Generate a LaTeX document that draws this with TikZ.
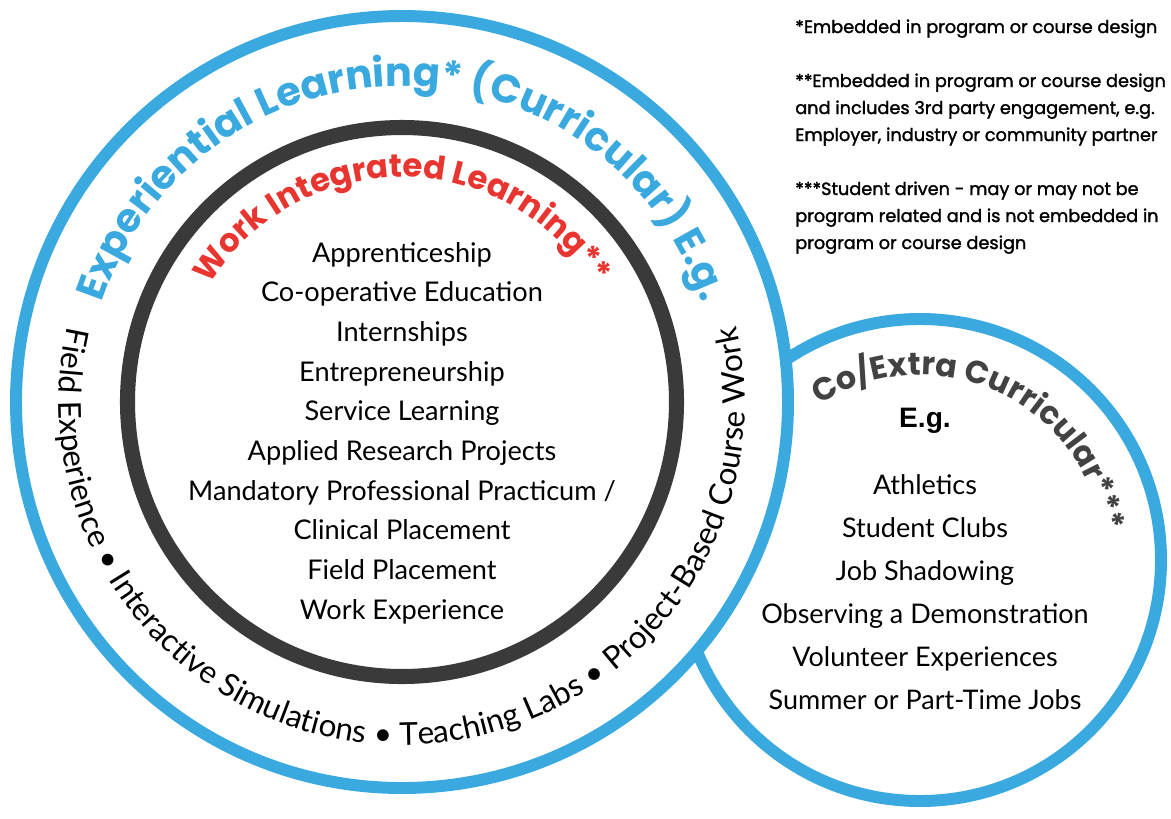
\documentclass[tikz,border=0pt]{standalone}
\usepackage{fontspec}
\setmainfont{Lato}
\newfontfamily\pop{Poppins}
\newfontfamily\popm{Poppins}[FakeBold=1.6]
\newfontfamily\ars{Liberation Sans}
\usetikzlibrary{decorations.text}
\definecolor{eblue}{HTML}{39A9DF}
\definecolor{wred}{HTML}{E8352F}
\definecolor{dgray}{HTML}{3A3A3A}
\definecolor{cgray}{HTML}{424242}
\tikzset{
  bluering/.style={draw=eblue, line width=8.5pt, fill=white},
  darkring/.style={draw=dgray, line width=10.7pt},
  listtext/.style={align=center, inner sep=0pt, font=\fontsize{19.3}{28.2}\selectfont},
  smalllist/.style={align=center, inner sep=0pt, font=\fontsize{19.2}{30.6}\selectfont},
  notetext/.style={align=left, inner sep=0pt, anchor=base west, font=\popm\fontsize{12.6}{19.2}\selectfont},
}
\begin{document}
\begin{tikzpicture}[x=0.025cm,y=0.025cm]
\useasboundingbox (0,0) rectangle (1171,-818);
\coordinate (cbig) at (402,-402);
\coordinate (csmall) at (920,-560);
% circles
\path[bluering] (csmall) circle[radius=241];
\path[bluering] (cbig) circle[radius=386];
\path[darkring] (cbig) circle[radius=274.5];
% curved titles
\path[decorate, decoration={text along path, text align=center,
  text={|\pop\bfseries\fontsize{28.4}{30}\selectfont\color{eblue}|Experiential Learning* (Curricular) E.g.}}]
  (86,-402) arc[start angle=180, end angle=0, radius=316];
\path[decorate, decoration={text along path, text align=center,
  text={|\pop\bfseries\fontsize{23}{26}\selectfont\color{wred}|Work Integrated Learning**}}]
  (177,-402) arc[start angle=180, end angle=0, radius=225];
\path[decorate, decoration={text along path, text align=center,
  text={|\fontsize{22.4}{24}\selectfont\color{black}|Field Experience • Interactive Simulations • Teaching Labs • Project-Based Course Work}}]
  (105,-230.5) arc[start angle=150, end angle=390, radius=343];
\path[decorate, decoration={text along path, text align=center,
  text={|\pop\bfseries\fontsize{22.6}{26}\selectfont\color{cgray}|Co/Extra Curricular***}}]
  (751,-484.8) arc[start angle=156, end angle=-24, radius=185];
% lists
\node[listtext] (wil) at (402,-433) {Apprenticeship\\Co-operative Education\\Internships\\Entrepreneurship\\Service Learning\\Applied Research Projects\\Mandatory Professional Practicum /\\Clinical Placement\\Field Placement\\Work Experience};
\node[font=\ars\bfseries\fontsize{20}{22}\selectfont, inner sep=0pt] (eg) at (925,-421) {E.g.};
\node[smalllist] (cec) at (925,-592) {Athletics\\Student Clubs\\Job Shadowing\\Observing a Demonstration\\Volunteer Experiences\\Summer or Part-Time Jobs};
% notes
\node[notetext] (n1) at (795,-33) {*Embedded in program or course design};
\node[notetext] (n2) at (795,-141) {**Embedded in program or course design\\and includes 3rd party engagement, e.g.\\Employer, industry or community partner};
\node[notetext] (n3) at (795,-249) {***Student driven - may or may not be\\program related and is not embedded in\\program or course design};
\end{tikzpicture}
\end{document}
